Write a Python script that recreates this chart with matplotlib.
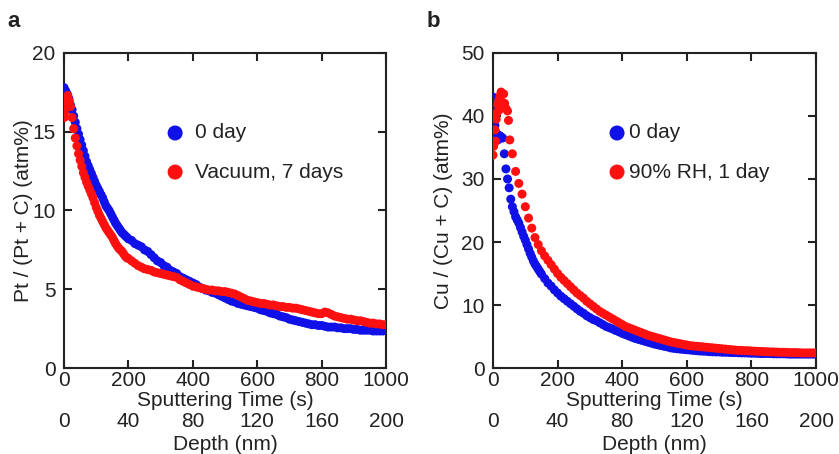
import matplotlib
matplotlib.use("Agg")
import matplotlib.pyplot as plt

plt.rcParams['font.family'] = ['Liberation Sans', 'DejaVu Sans']

# sputtering time grid (s), shared by the later parts of all series
sputter_time = [0, 10, 20, 30, 40, 50, 60, 70, 80, 90,
                100, 110, 120, 130, 140, 150, 160, 170, 180, 190,
                200, 210, 220, 230, 240, 250, 260, 270, 280, 290,
                300, 310, 320, 330, 340, 350, 360, 370, 380, 390,
                400, 410, 420, 430, 440, 450, 460, 470, 480, 490,
                500, 510, 520, 530, 540, 550, 560, 570, 580, 590,
                600, 610, 620, 630, 640, 650, 660, 670, 680, 690,
                700, 710, 720, 730, 740, 750, 760, 770, 780, 790,
                800, 810, 820, 830, 840, 850, 860, 870, 880, 890,
                900, 910, 920, 930, 940, 950, 960, 970, 980, 990, 1000]
# in-between times of the dense start of the curves
half_step_time = [5, 15, 25, 35, 45, 55, 65, 75, 85, 95,
                  105, 115, 125, 135, 145, 155, 165, 175, 185, 195]

# panel a: Pt / (Pt + C)
pt_0day = [17.8, 17.4, 16.7, 16.0, 15.2, 14.5, 13.8, 13.1, 12.6, 12.1,
           11.6, 11.2, 10.8, 10.3, 10.0, 9.6, 9.2, 8.9, 8.6, 8.4,
           8.2, 8.1, 7.9, 7.8, 7.7, 7.5, 7.4, 7.2, 7.0, 6.8,
           6.7, 6.5, 6.4, 6.2, 6.1, 6.0, 5.8, 5.7, 5.6, 5.5,
           5.4, 5.3, 5.15, 5.05, 4.95, 4.9, 4.8, 4.75, 4.65, 4.55,
           4.45, 4.35, 4.25, 4.2, 4.1, 4.05, 4.0, 3.95, 3.9, 3.85,
           3.8, 3.7, 3.65, 3.6, 3.5, 3.45, 3.4, 3.3, 3.25, 3.2,
           3.1, 3.05, 3.0, 2.95, 2.9, 2.85, 2.8, 2.75, 2.75, 2.7,
           2.7, 2.65, 2.6, 2.6, 2.6, 2.55, 2.55, 2.5, 2.5, 2.5,
           2.45, 2.45, 2.4, 2.4, 2.4, 2.4, 2.35, 2.35, 2.35, 2.35, 2.4]
pt_0day_half = [17.6, 17.1, 16.4, 15.6, 14.85, 14.15, 13.45, 12.85, 12.35, 11.85,
                11.4, 11.0, 10.55, 10.15, 9.8, 9.4, 9.05, 8.75, 8.5, 8.3]

pt_vac7 = [15.9, 17.1, 16.6, 15.2, 14.1, 13.2, 12.4, 11.8, 11.3, 10.8,
           10.2, 9.7, 9.3, 8.9, 8.6, 8.3, 7.9, 7.6, 7.4, 7.1,
           6.95, 6.8, 6.65, 6.5, 6.4, 6.3, 6.25, 6.2, 6.1, 6.05,
           6.0, 5.95, 5.9, 5.85, 5.8, 5.75, 5.6, 5.5, 5.4, 5.3,
           5.2, 5.15, 5.1, 5.05, 5.0, 4.95, 4.95, 4.9, 4.9, 4.85,
           4.85, 4.8, 4.75, 4.7, 4.6, 4.5, 4.4, 4.3, 4.25, 4.2,
           4.15, 4.1, 4.1, 4.05, 4.0, 4.0, 3.95, 3.9, 3.9, 3.85,
           3.85, 3.8, 3.8, 3.75, 3.7, 3.65, 3.6, 3.55, 3.5, 3.45,
           3.45, 3.55, 3.5, 3.4, 3.3, 3.25, 3.2, 3.15, 3.1, 3.1,
           3.05, 3.0, 3.0, 2.95, 2.9, 2.85, 2.85, 2.8, 2.8, 2.75, 2.75]
pt_vac7_half = [16.8, 17.0, 15.9, 14.6, 13.6, 12.8, 12.1, 11.55, 11.05, 10.5,
                9.95, 9.5, 9.1, 8.75, 8.45, 8.1, 7.75, 7.5, 7.25, 7.0]
# extra early points of the vacuum sample
pt_vac7_early_t = [2, 3, 7, 12, 17]
pt_vac7_early_v = [16.2, 16.5, 17.2, 17.3, 16.9]

# panel b: Cu / (Cu + C)
cu_0day_early_t = [0, 2, 4, 6, 8, 10, 15, 20, 25, 30, 35, 40, 45, 50, 55]
cu_0day_early_v = [43.0, 41.0, 39.5, 38.5, 37.5, 36.8, 36.2, 36.9, 36.7, 36.5,
                   34.0, 31.6, 30.0, 28.6, 26.8]
cu_0day_t = sputter_time[6:]
cu_0day = [25.6, 24.0, 23.0, 21.6,
           20.3, 18.9, 17.6, 16.5, 15.7, 14.9, 14.2, 13.5, 13.0, 12.4,
           11.9, 11.4, 11.0, 10.6, 10.2, 9.8, 9.4, 9.0, 8.7, 8.3,
           8.0, 7.7, 7.5, 7.2, 6.9, 6.6, 6.4, 6.2, 5.95, 5.75,
           5.5, 5.3, 5.1, 4.9, 4.7, 4.55, 4.4, 4.25, 4.1, 3.95,
           3.8, 3.68, 3.56, 3.45, 3.35, 3.2, 3.12, 3.05, 3.0, 2.95,
           2.9, 2.85, 2.8, 2.75, 2.7, 2.68, 2.65, 2.6, 2.58, 2.55,
           2.55, 2.5, 2.5, 2.48, 2.45, 2.45, 2.42, 2.4, 2.4, 2.38,
           2.35, 2.35, 2.33, 2.3, 2.3, 2.3, 2.28, 2.25, 2.25, 2.25,
           2.25, 2.22, 2.2, 2.2, 2.2, 2.2, 2.2, 2.2, 2.2, 2.2, 2.2]
cu_0day_half_t = half_step_time[6:15]
cu_0day_half = [24.8, 23.5, 22.3, 20.9, 19.6, 18.2, 17.0, 16.1, 15.3]

cu_rh90_early_t = [0, 2, 4, 6, 8, 10, 12, 15, 18, 20, 22, 25, 28, 30, 33,
                   36, 40, 45, 48, 52]
cu_rh90_early_v = [33.8, 35.2, 35.8, 37.8, 36.0, 39.5, 40.5, 41.8, 42.5, 41.0,
                   43.2, 43.8, 42.2, 41.5, 43.5, 42.0, 41.2, 40.8, 39.3, 36.2]
cu_rh90_t = sputter_time[6:]
cu_rh90 = [34.0, 31.2, 29.3, 27.6,
           25.6, 23.8, 22.2, 20.7, 19.6, 18.6, 17.8, 17.1, 16.4, 15.7,
           15.0, 14.4, 13.9, 13.4, 12.9, 12.4, 11.9, 11.5, 11.1, 10.6,
           10.2, 9.8, 9.4, 9.0, 8.7, 8.4, 8.1, 7.8, 7.5, 7.2,
           6.9, 6.6, 6.4, 6.2, 6.0, 5.8, 5.6, 5.4, 5.2, 5.05,
           4.9, 4.75, 4.6, 4.45, 4.3, 4.15, 4.05, 3.95, 3.85, 3.75,
           3.65, 3.55, 3.5, 3.45, 3.4, 3.35, 3.3, 3.25, 3.2, 3.15,
           3.1, 3.05, 3.0, 2.95, 2.9, 2.85, 2.8, 2.8, 2.75, 2.75,
           2.7, 2.68, 2.65, 2.62, 2.6, 2.58, 2.55, 2.55, 2.52, 2.5,
           2.5, 2.48, 2.45, 2.45, 2.45, 2.42, 2.4, 2.4, 2.4, 2.4, 2.4]

time_ticks = [0, 200, 400, 600, 800, 1000]
depth_ticks = [0, 40, 80, 120, 160, 200]

blue = '#1010e8'
red = '#ff1010'
txt = '#222222'
fs = 15
ms = 42


def style_axes(ax, ymax, ystep, ylabel, ylab_x):
    ax.set_xlim(0, 1000)
    ax.set_ylim(0, ymax)
    ax.set_xticks(time_ticks)
    ax.set_yticks(list(range(0, ymax + 1, ystep)))
    ax.tick_params(direction='in', length=6, width=1.5, top=True, right=True,
                   labelsize=fs, colors=txt, labelcolor=txt)
    ax.tick_params(axis='x', pad=2)
    ax.tick_params(axis='y', pad=6)
    for s in ax.spines.values():
        s.set_linewidth(1.5)
        s.set_color(txt)
    ax.set_xlabel('Sputtering Time (s)', fontsize=fs, color=txt)
    ax.xaxis.set_label_coords(0.5, -0.072)
    ax.set_ylabel(ylabel, fontsize=fs, color=txt)
    ax.yaxis.set_label_coords(ylab_x, 0.5)

    # depth axis below the time axis
    sec = ax.secondary_xaxis(-0.135, functions=(lambda t: t / 5, lambda d: d * 5))
    sec.set_xticks(depth_ticks)
    sec.tick_params(length=0, pad=1, labelsize=fs, colors=txt, labelcolor=txt)
    sec.spines['bottom'].set_visible(False)
    sec.set_xlabel('Depth (nm)', fontsize=fs, color=txt, labelpad=3)


def legend_marks(ax, lx, tx, labels):
    for y, c, lab in zip([0.746, 0.622], [blue, red], labels):
        ax.scatter([lx], [y], s=117, color=c, edgecolors='none',
                   transform=ax.transAxes, clip_on=False, zorder=5)
        ax.text(tx, y, lab, transform=ax.transAxes, fontsize=fs, color=txt,
                va='center', ha='left')


fig = plt.figure(figsize=(8.39, 4.54), dpi=100)
ax_a = fig.add_axes([0.0763, 0.1894, 0.3838, 0.6939])
ax_b = fig.add_axes([0.5876, 0.1894, 0.3850, 0.6939])

# a
ax_a.scatter(sputter_time, pt_0day, s=ms, color=blue, edgecolors='none', zorder=3)
ax_a.scatter(half_step_time, pt_0day_half, s=ms, color=blue, edgecolors='none', zorder=3)
ax_a.scatter(sputter_time, pt_vac7, s=ms, color=red, edgecolors='none', zorder=4)
ax_a.scatter(half_step_time, pt_vac7_half, s=ms, color=red, edgecolors='none', zorder=4)
ax_a.scatter(pt_vac7_early_t, pt_vac7_early_v, s=ms, color=red, edgecolors='none', zorder=4)
style_axes(ax_a, 20, 5, 'Pt / (Pt + C) (atm%)', -0.095)
legend_marks(ax_a, 0.345, 0.408, ['0 day', 'Vacuum, 7 days'])

# b
ax_b.scatter(cu_0day_early_t, cu_0day_early_v, s=ms, color=blue, edgecolors='none', zorder=3)
ax_b.scatter(cu_0day_t, cu_0day, s=ms, color=blue, edgecolors='none', zorder=3)
ax_b.scatter(cu_0day_half_t, cu_0day_half, s=ms, color=blue, edgecolors='none', zorder=3)
ax_b.scatter(cu_rh90_early_t, cu_rh90_early_v, s=ms, color=red, edgecolors='none', zorder=4)
ax_b.scatter(cu_rh90_t, cu_rh90, s=ms, color=red, edgecolors='none', zorder=4)
style_axes(ax_b, 50, 10, 'Cu / (Cu + C) (atm%)', -0.125)
legend_marks(ax_b, 0.384, 0.42, ['0 day', '90% RH, 1 day'])

fig.text(0.009, 0.94, 'a', fontsize=16, fontweight='bold', color=txt)
fig.text(0.509, 0.94, 'b', fontsize=16, fontweight='bold', color=txt)

fig.savefig('out.png', dpi=100)
